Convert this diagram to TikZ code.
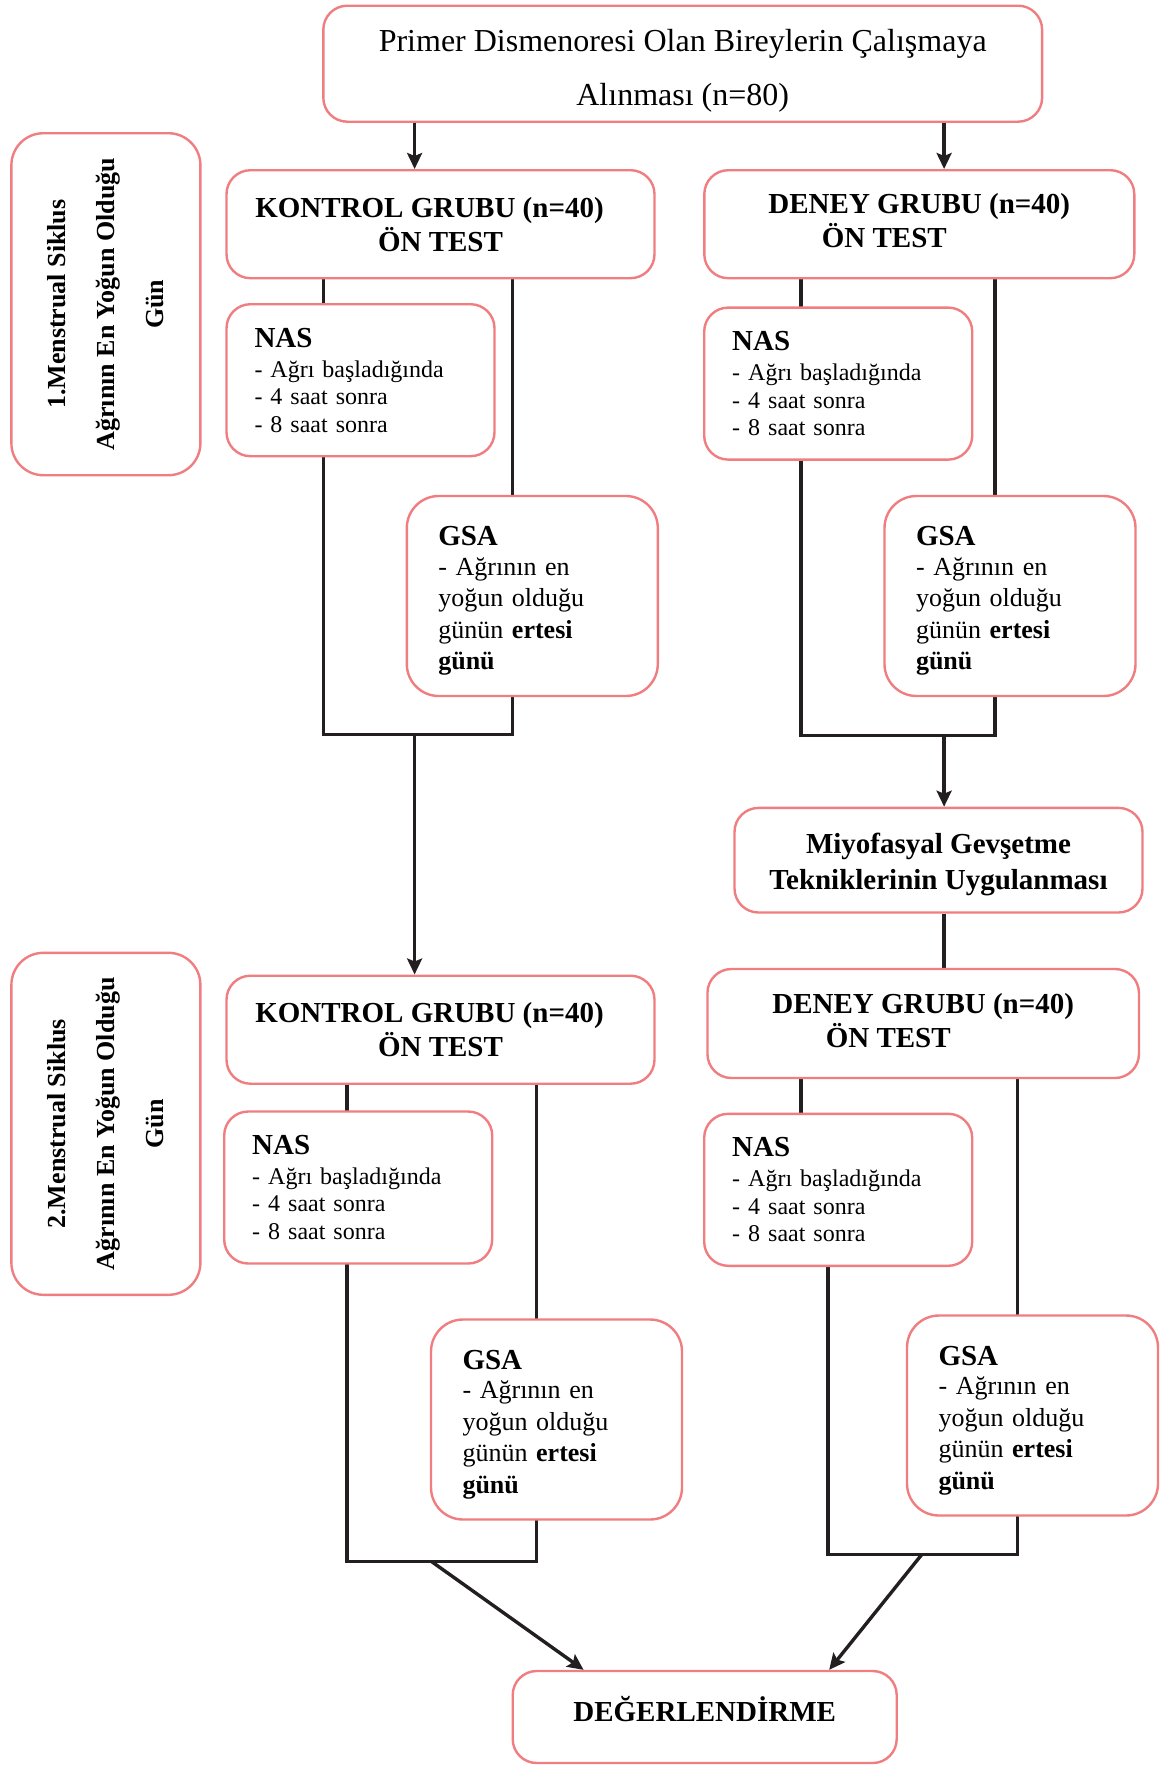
\documentclass[tikz,border=0pt]{standalone}
\usepackage{fontspec}
\setmainfont{Liberation Serif}
\usetikzlibrary{arrows.meta,backgrounds}
\definecolor{boxpink}{RGB}{240,125,128}
\definecolor{lineblack}{RGB}{35,31,32}
\newcommand{\gsahead}{{\fontsize{14.5}{15}\selectfont\bfseries\rule{0pt}{14.6pt}GSA}}
\newcommand{\nashead}{{\fontsize{14.5}{15}\selectfont\bfseries NAS}}
\begin{document}
\begin{tikzpicture}[x=0.5pt,y=-0.5pt,
  box/.style={draw=boxpink, line width=1.2pt, rounded corners=12pt, fill=white, inner sep=0pt},
  head/.style={box, align=center, font=\fontsize{14.5}{17}\selectfont\bfseries},
  nasbox/.style={box, minimum width=134pt, minimum height=76pt, text width=106pt, align=left, font=\fontsize{12}{13.8}\selectfont},
  gsabox/.style={box, rounded corners=16pt, minimum width=125.5pt, minimum height=100pt, text width=94pt, align=left, font=\fontsize{13}{15.75}\selectfont},
  cycbox/.style={box, rounded corners=16pt, rotate=90, minimum width=171pt, minimum height=94.5pt, align=center, font=\fontsize{13}{24.5}\selectfont\bfseries},
  link/.style={draw=lineblack, line width=1.7pt},
  arr/.style={link, -{Stealth[length=8pt,width=7.5pt,inset=1.5pt]}}]
\useasboundingbox (0,0) rectangle (1166,1767);
\path (682.7,63.7) node[box, minimum width=359.4pt, minimum height=58pt, align=center, font=\fontsize{16}{27}\selectfont] (start) {\rule{0pt}{18pt}Primer Dismenoresi Olan Bireylerin Çalışmaya\\Alınması (n=80)};
\path (105.9,304.2) node[cycbox] (cycle1) {1.Menstrual Siklus\\Ağrının En Yoğun Olduğu\\Gün};
\path (105.9,1123.8) node[cycbox] (cycle2) {2.Menstrual Siklus\\Ağrının En Yoğun Olduğu\\Gün};
% 1. siklus
\path (440.5,224.2) node[head, minimum width=214pt, minimum height=54pt] (kontrol1) {KONTROL GRUBU (n=40)\hspace*{11pt}\\ÖN TEST};
\path (919.3,224.2) node[head, minimum width=215pt, minimum height=54pt] (deney1) {DENEY GRUBU (n=40)\\ÖN TEST\hspace*{35pt}\rule[-4pt]{0pt}{4pt}};
\path (360.5,380.2) node[nasbox] (nasK1) {\nashead\\[1.2pt]- Ağrı başladığında\\- 4 saat sonra\\- 8 saat sonra};
\path (838.2,383.6) node[nasbox] (nasD1) {\nashead\\[1.2pt]- Ağrı başladığında\\- 4 saat sonra\\- 8 saat sonra};
\path (532.3,596) node[gsabox] (gsaK1) {\gsahead\\[-1pt]- Ağrının en\\yoğun olduğu\\günün \textbf{ertesi}\\\textbf{günü}};
\path (1010,596) node[gsabox] (gsaD1) {\gsahead\\[-1pt]- Ağrının en\\yoğun olduğu\\günün \textbf{ertesi}\\\textbf{günü}};
\path (938.5,860.2) node[head, minimum width=204pt, minimum height=52.3pt, font=\fontsize{14.5}{18}\selectfont\bfseries] (miyo) {\rule{0pt}{14pt}Miyofasyal Gevşetme\\Tekniklerinin Uygulanması};
% 2. siklus
\path (440.5,1029.7) node[head, minimum width=214pt, minimum height=54pt] (kontrol2) {KONTROL GRUBU (n=40)\hspace*{11pt}\\ÖN TEST};
\path (923.2,1023.5) node[head, minimum width=215.75pt, minimum height=54.5pt] (deney2) {DENEY GRUBU (n=40)\\ÖN TEST\hspace*{35pt}\rule[-3.5pt]{0pt}{3.5pt}};
\path (358.2,1187.5) node[nasbox] (nasK2) {\nashead\\[1.2pt]- Ağrı başladığında\\- 4 saat sonra\\- 8 saat sonra};
\path (838.2,1189.8) node[nasbox] (nasD2) {\nashead\\[1.2pt]- Ağrı başladığında\\- 4 saat sonra\\- 8 saat sonra};
\path (556.5,1419.5) node[gsabox] (gsaK2) {\gsahead\\[-1pt]- Ağrının en\\yoğun olduğu\\günün \textbf{ertesi}\\\textbf{günü}};
\path (1032.5,1415.5) node[gsabox] (gsaD2) {\gsahead\\[-1pt]- Ağrının en\\yoğun olduğu\\günün \textbf{ertesi}\\\textbf{günü}};
\path (704.7,1717) node[head, minimum width=192pt, minimum height=46pt] (final) {DEĞERLENDİRME\rule[-8pt]{0pt}{8pt}};
% bars
\coordinate (barK1) at (323.3,734.5); \coordinate (barK1r) at (512.6,734.5); \coordinate (jK1) at (414.6,734.5);
\coordinate (barD1) at (801,735.7); \coordinate (barD1r) at (994.8,735.7); \coordinate (jD1) at (944.1,735.7);
\coordinate (barK2) at (347,1561.5); \coordinate (barK2r) at (536.3,1561.5); \coordinate (jK2) at (431.5,1561.5);
\coordinate (topD2) at (801,1000); \coordinate (barD2) at (828,1554.7); \coordinate (barD2r) at (1017.3,1554.7); \coordinate (jD2) at (921.6,1554.7);
\coordinate (inK) at (583.6,0); \coordinate (inD) at (829.2,0);
\begin{scope}[on background layer]
\draw[link] (kontrol1.south -| barK1) -- (barK1) -- (barK1r) -- (kontrol1.south -| barK1r);
\draw[link] (deney1.south -| barD1) -- (barD1) -- (barD1r) -- (deney1.south -| barD1r);
\draw[link] (miyo.south -| jD1) -- (deney2.north -| jD1);
\draw[link] (kontrol2.south -| barK2) -- (barK2) -- (barK2r) -- (kontrol2.south -| barK2r);
\draw[link] (deney2.south -| topD2) -- (nasD2.center -| topD2);
\draw[link] (nasD2.center -| barD2) -- (barD2) -- (barD2r) -- (deney2.south -| barD2r);
\end{scope}
\draw[arr] (start.south -| jK1) -- (kontrol1.north -| jK1);
\draw[arr] (start.south -| jD1) -- (deney1.north -| jD1);
\draw[arr] (jK1) -- (kontrol2.north -| jK1);
\draw[arr] (jD1) -- (miyo.north -| jD1);
\draw[arr] (jK2) -- (final.north -| inK);
\draw[arr] (jD2) -- (final.north -| inD);
\end{tikzpicture}
\end{document}
